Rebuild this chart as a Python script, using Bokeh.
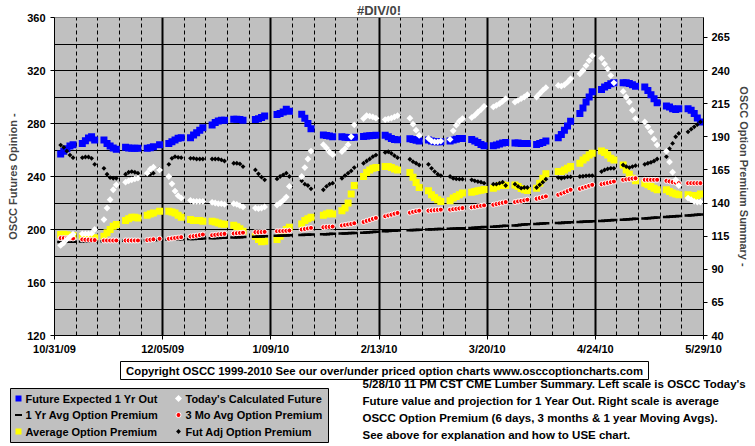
import math
import numpy as np
import pandas as pd
from bokeh.plotting import figure
from bokeh.models import Range1d, LinearAxis, FixedTicker, Grid
from bokeh.layouts import column
from bokeh.embed import file_html
from bokeh.resources import INLINE
from bokeh.core.properties import value

FONT = "Liberation Sans"

# ---------------- data ----------------
chart_start = "2009-10-31"
trade_dates = pd.bdate_range("2009-11-02", "2010-05-28")   # 30 weeks x 5 weekdays

x_tick_days = [0, 35, 70, 105, 140, 175, 210]
x_tick_labels = ["10/31/09", "12/05/09", "1/09/10", "2/13/10", "3/20/10", "4/24/10", "5/29/10"]
left_ticks = [120, 160, 200, 240, 280, 320, 360]
right_ticks = [40, 65, 90, 115, 140, 165, 190, 215, 240, 265]

N = None
# Left scale (OSCC Futures Opinion)
future_expected_1yr = [
    257, 259, 261, 263, 264,
    265, 267, 269, 270, 267.5,
    267.5, 265, 263, 261.5, 260.5,
    262, 261.5, 261.3, 261.3, 261.3,
    261.3, 261.7, 262.5, N, 264,
    265, 266.3, 267.5, 268.8, 269.3,
    269.3, 271.3, 273, 275, 276.8,
    278.8, 280.8, 281.8, 282.5, 282.5,
    283.3, 283.3, 283, 282.5, N,
    283, 283.5, 284.5, 285.7, N,
    286.7, 287.5, 288.7, 290.7, 289.2,
    N, 287, 284, 280, 276,
    N, 271.3, 271, 270.5, 270,
    270, 269.7, 269.5, 269.5, 269.7,
    270.2, 270.5, 270.7, 271, 271.2,
    271.2, 270, 268.7, 268, 267.8,
    N, 268.5, 268, 267.3, 266.8,
    267.5, 266.8, 266.2, 266.2, 266.2,
    266.8, 267.5, 268.2, 268.7, 268.7,
    268, 266.8, 265.7, 264.2, 263.3,
    263.3, 263.8, 264.5, 265.3, 265.7,
    265.3, 265.2, 265, 265, 265,
    264.2, 265, 265.7, 266.8, N,
    269.2, 271.7, 275, 278.2, 281.7,
    287.5, 291.7, 296.2, 300, 304,
    305.7, 307.5, 308.7, 310, 310.7,
    310.7, 310.7, 310.2, 309.2, 308.2,
    307.5, 305, 301.7, 298.7, 295.7,
    293.2, 292.5, 291.2, 290.5, 291.2,
    291.2, 290, 287.5, 284.2, 281.2,
]
todays_calculated = [
    188, 190, 192.5, 194.5, 196.5,
    196.7, 196.7, 196.7, 197, 200,
    207.5, 216.2, 222.5, 230, 233.7,
    235.7, 236.7, 237.5, 238.2, 238.7,
    242.5, 245.5, 247, N, 245,
    240, 234.5, 229, 225.5, 223.7,
    222, 221.2, 221.2, 221.2, 221.2,
    220.5, 220, 219.5, 219.5, 219,
    219.5, 219, 218, 217, N,
    216.2, 215.7, 216.2, 217, N,
    218.5, 220, 222, 224.5, 232.5,
    N, 240, 246.7, 253.2, 259.2,
    N, 264, 261.5, 258.5, 256.5,
    258.8, 261, 264, 270, 279,
    283.7, 286, 285.5, 285, 284,
    283, 283.5, 284, 285, 286,
    N, 284, 279.5, 275, 271,
    268.7, 266.8, 266.2, 266.2, 266.7,
    268, 274.5, 278.7, 281.7, 283.7,
    284.5, 286.2, 288.5, 290.5, 293,
    292.5, 293.7, 295, 296.7, 298.7,
    296.2, 297.5, 298.7, 300, 301.7,
    300, 302.5, 305, 307, N,
    308.7, 308.2, 309.2, 311.2, 313.7,
    317.5, 320, 323.7, 327.5, 331.2,
    329.2, 325, 321.2, 316.2, 310.7,
    304.2, 300, 296.2, 290, 283.7,
    281.2, 277.5, 273.7, 268.2, 263.8,
    259, 251, 243.2, 237.5, 233.2,
    223.7, 222.5, 221.2, 220.7, 220.7,
]
# Right scale (OSCC Option Premium Summary)
one_yr_avg_premium = [
    110.6, 110.6, 110.7, 110.7, 110.8,
    110.9, 110.9, 111, 111, 111.1,
    111.2, 111.2, 111.3, 111.3, 111.4,
    111.5, 111.6, 111.6, 111.7, 111.7,
    111.8, 111.9, 112, N, 112.1,
    112.3, 112.4, 112.5, 112.6, 112.7,
    112.8, 112.9, 113, 113.1, 113.2,
    113.4, 113.5, 113.6, 113.7, 113.8,
    114, 114.1, 114.2, 114.3, N,
    114.6, 114.7, 114.8, 114.9, N,
    115.2, 115.3, 115.4, 115.5, 115.6,
    N, 115.9, 116, 116.1, 116.2,
    N, 116.4, 116.5, 116.6, 116.7,
    116.9, 117, 117.2, 117.3, 117.4,
    117.6, 117.8, 118, 118.1, 118.3,
    118.6, 118.8, 119, 119.1, 119.3,
    N, 119.5, 119.6, 119.7, 119.8,
    120, 120.1, 120.2, 120.3, 120.4,
    120.5, 120.6, 120.8, 120.9, 121,
    121.2, 121.4, 121.5, 121.7, 121.8,
    122.1, 122.3, 122.5, 122.7, 122.9,
    123.1, 123.3, 123.5, 123.7, 123.9,
    124.1, 124.3, 124.5, 124.7, N,
    124.9, 125, 125.2, 125.3, 125.5,
    125.7, 125.8, 126, 126.1, 126.3,
    126.5, 126.6, 126.8, 127, 127.1,
    127.3, 127.5, 127.7, 127.9, 128.1,
    128.3, 128.5, 128.7, 128.9, 129.1,
    129.4, 129.6, 129.8, 130, 130.2,
    130.5, 130.7, 130.9, 131.1, 131.3,
]
three_mo_avg_premium = [
    113.5, 113.5, 113.5, 113.3, 113.2,
    112.5, 112.3, 112.2, 112, 112,
    111.7, 111.7, 111.7, 111.7, 111.7,
    111.7, 111.7, 111.7, 111.7, 111.7,
    112, 112.3, 112.6, N, 113,
    113, 113.3, 113.6, 113.9, 114.2,
    114.7, 115, 115.3, 115.8, 116.2,
    115.7, 116, 116.3, 116.5, 116.7,
    117, 117.2, 117.4, 117.6, N,
    118, 118, 118.1, 118.2, N,
    118.7, 118.8, 118.9, 119, 119.2,
    N, 120, 120.4, 120.8, 121.2,
    N, 121.7, 121.9, 122, 122.2,
    123, 123.4, 123.8, 124.2, 124.7,
    125.7, 126.5, 127.2, 128, 128.7,
    130, 130.6, 131.2, 131.9, 132.5,
    N, 132.7, 133.3, 133.8, 134.2,
    134.2, 134.4, 134.6, 134.8, 135,
    135, 135.3, 135.6, 135.9, 136.2,
    136.7, 137.1, 137.5, 137.9, 138.2,
    138.7, 139.2, 139.7, 140.2, 140.7,
    140.7, 141.2, 141.6, 142, 142.5,
    143.2, 143.8, 144.4, 145, N,
    146.2, 147.1, 148, 149, 150,
    150.7, 151.5, 152.2, 153, 153.7,
    154.2, 154.7, 155.2, 155.7, 156.2,
    157.5, 157.8, 158.1, 158.4, 158.7,
    157.5, 157.5, 157.5, 157.5, 157.5,
    156.7, 156.3, 155.8, 155.4, 155,
    155, 155, 155, 155, 155,
]
average_premium = [
    116.2, 116.5, 116, 115.5, 115.5,
    115, 114.5, 114.2, 113.7, 113.7,
    115, 117.5, 120, 122.5, 123.7,
    126.7, 128.2, 129.2, 129.2, 128.7,
    130.7, 131.7, 132.5, N, 133.7,
    133.7, 133.2, 132.5, 130.7, 129.2,
    127.5, 126.7, 126.7, 126.7, 126.2,
    126.2, 125.7, 125, 124.2, 124,
    123.2, 122, 120.5, 118.7, N,
    115, 112.5, 110.7, 111.2, N,
    112.5, 115, 117.5, 120, 121.7,
    N, 124.2, 126.7, 128.2, 129.2,
    N, 130.7, 131.7, 132.5, 131.7,
    134.2, 136.2, 140, 146.7, 153.2,
    160, 163, 165, 166.2, 166.7,
    167.5, 167.5, 166.7, 165.7, 165,
    N, 163, 159.5, 155.5, 151.7,
    149.2, 146.2, 144.2, 142.5, 141.2,
    141.7, 143.7, 145, 146.2, 147.5,
    148.2, 148.7, 149.2, 149.7, 150.2,
    151.2, 152.2, 153.2, 153.7, 153.2,
    153.5, 152.5, 151, 150, 149.5,
    151.2, 155, 158.7, 162, N,
    163.7, 163.7, 165, 166.2, 167.5,
    170, 172.5, 174.2, 176.2, 177.5,
    179.2, 178.2, 176.2, 173.7, 172.5,
    168.7, 165, 161.7, 158.7, 156.7,
    155, 153.7, 152.5, 151.2, 150,
    150, 148.7, 147.5, 146.7, 146.2,
    146.2, 145.7, 145, 145.7, 146.7,
]
fut_adj_premium = [
    183.7, 182, 179.2, 176.2, 174.2,
    174.2, 174.7, 174.7, 173.7, 169.2,
    166.2, 161.7, 159.2, 158.7, 158.7,
    161.7, 163.2, 163.7, 163.2, 162.5,
    161.2, 161.7, 162.5, N, 165.7,
    169.2, 173.7, 175, 174.5, 174.2,
    173.7, 173.7, 173.2, 173.2, 173.2,
    173.2, 173.2, 173.2, 172.5, 171.7,
    170, 170, 169.5, 167.5, N,
    165, 162, 159.5, 157.5, N,
    158.2, 160, 161.2, 162.5, 160,
    N, 156.7, 154.2, 153.2, 150.7,
    N, 150, 152.5, 154.2, 155,
    158.7, 160.7, 162.5, 164.2, 166.7,
    170, 171.7, 173.2, 175, 176.2,
    178.2, 178.7, 177.5, 175.7, 174.2,
    N, 173, 171.2, 170, 168.7,
    169.2, 166.2, 163.7, 161.7, 160.7,
    160, 158.7, 158.2, 158, 158,
    157.5, 156.7, 156.2, 155.7, 155,
    154.2, 154.2, 155, 155.7, 153.2,
    154.2, 152.5, 151.2, 151.7, 151.7,
    151.7, 153.7, 155.7, 158, N,
    159.2, 158.7, 159.2, 159.7, 159.7,
    160, 160.2, 160.5, 160.7, 160.7,
    163.7, 165, 165.7, 166.2, 166.2,
    168.7, 167.5, 166.7, 167.5, 168.2,
    169.2, 170, 170.7, 171.7, 173.2,
    175, 181, 185, 190, 192.5,
    193.7, 195.7, 197.5, 199.2, 201.2,
]

legend_labels = ["Future Expected 1 Yr Out", "Today's Calculated Future",
                 "1 Yr Avg Option Premium", "3 Mo Avg Option Premium",
                 "Average Option Premium", "Fut Adj Option Premium"]
copyright_text = "Copyright OSCC 1999-2010 See our over/under priced option charts www.osccoptioncharts.com"
note_lines = [
    "5/28/10 11 PM CST CME Lumber Summary. Left scale is OSCC Today's",
    "Future value and projection for 1 Year Out. Right scale is average",
    "OSCC Option Premium (6  days, 3 months & 1 year Moving  Avgs).",
    "See above for explanation and how to USE chart.",
]

def arr(v):
    return np.array([np.nan if a is None else a for a in v], dtype=float)

x_days = (trade_dates - pd.Timestamp(chart_start)).days.values.astype(float)

# ---------------- main chart ----------------
FL, FR = 54, 703
W = 755
p = figure(width=W, height=360, x_range=Range1d(0, 210), y_range=Range1d(120, 360),
           output_backend="svg", toolbar_location=None,
           min_border_left=FL, min_border_right=W - FR, min_border_top=15, min_border_bottom=25,
           background_fill_color="#C0C0C0", border_fill_color="white",
           title="#DIV/0!")
p.title.align = "center"
p.title.text_font = FONT
p.title.text_font_size = "13px"
p.title.text_font_style = "bold"
p.title.standoff = 0
p.outline_line_color = "#808080"
p.extra_y_ranges = {"right": Range1d(40, 280)}

def style_axis(ax):
    ax.major_label_text_font = FONT
    ax.major_label_text_font_size = "11px"
    ax.major_label_text_font_style = "bold"
    ax.major_label_text_color = "black"
    ax.axis_label_text_font = FONT
    ax.axis_label_text_font_size = "11px"
    ax.axis_label_text_font_style = "bold"
    ax.axis_line_color = "black"
    ax.axis_line_width = 1
    ax.major_tick_line_color = "black"
    ax.major_tick_out = 4
    ax.major_tick_in = 0
    ax.minor_tick_line_color = None

xa = p.xaxis[0]
xa.ticker = FixedTicker(ticks=x_tick_days)
xa.major_label_overrides = {d: lab for d, lab in zip(x_tick_days, x_tick_labels)}
style_axis(xa)
xa.major_label_standoff = 3

ya = p.yaxis[0]
ya.ticker = FixedTicker(ticks=left_ticks)
ya.axis_label = "OSCC Futures Opinion -"
style_axis(ya)
ya.major_label_standoff = 5
ya.axis_label_standoff = 5

ra = LinearAxis(y_range_name="right", ticker=FixedTicker(ticks=right_ticks),
                axis_label="OSCC Option Premium Summary -")
style_axis(ra)
ra.major_label_standoff = 4
ra.axis_label_standoff = 5
p.add_layout(ra, "right")

# grids
p.xgrid.ticker = FixedTicker(ticks=[35, 70, 105, 140, 175])
p.xgrid.grid_line_color = "black"
p.xgrid.grid_line_width = 2
p.ygrid.ticker = FixedTicker(ticks=list(range(120, 361, 20)))
p.ygrid.grid_line_color = "black"
p.ygrid.grid_line_width = 1
weekly = [d for d in range(7, 210, 7) if d % 35 != 0]
p.add_layout(Grid(dimension=0, ticker=FixedTicker(ticks=weekly), grid_line_color="black",
                  grid_line_width=1, grid_line_dash="4 3"))

# series
p.scatter(x_days, arr(future_expected_1yr), marker="square", size=7,
          fill_color="#0000FF", line_color=None)
p.scatter(x_days, arr(average_premium), marker="square", size=7,
          fill_color="#FFFF00", line_color=None, y_range_name="right")
p.scatter(x_days, arr(one_yr_avg_premium), marker="dash", size=7, line_width=2.5,
          line_color="black", y_range_name="right")
p.scatter(x_days, arr(three_mo_avg_premium), marker="circle", size=5,
          fill_color="#FF0000", line_color="white", line_width=1, y_range_name="right")
p.scatter(x_days, arr(fut_adj_premium), marker="square", angle=math.pi / 4, size=3.4,
          fill_color="black", line_color=None, y_range_name="right")
p.scatter(x_days, arr(todays_calculated), marker="square", angle=math.pi / 4, size=4.8,
          fill_color="white", line_color=None)

# ---------------- bottom panel (legend + notes), page-pixel coordinates ----------------
p2 = figure(width=W, height=86, x_range=Range1d(0, W), y_range=Range1d(446, 360),
            output_backend="svg", toolbar_location=None,
            min_border_left=0, min_border_right=0, min_border_top=0, min_border_bottom=0,
            x_axis_location=None, y_axis_location=None)
# keep this panel's frame full-width (do not align it with the chart frame above)
if "frame_align" in p2.properties():
    p2.frame_align = False
    p.frame_align = False
p2.grid.visible = False
p2.outline_line_color = None
p2.background_fill_color = "white"
p2.border_fill_color = "white"

def txt(size):
    return dict(text_font=value(FONT), text_font_size=size, text_font_style="bold",
                text_color="black", text_baseline="middle")

p2.quad(left=[120], right=[648], top=[361], bottom=[379], fill_color="white",
        line_color="black", line_width=1)
p2.text(x=[384], y=[370], text=[copyright_text], text_align="center", **txt("11.3px"))

p2.quad(left=[10], right=[328], top=[388], bottom=[442], fill_color="#C0C0C0",
        line_color="black", line_width=1)
rows = [398, 414.5, 431]
cols_m = [18, 178]
cols_t = [25, 185]
p2.scatter([cols_m[0]], [rows[0]], marker="square", size=6, fill_color="#0000FF", line_color=None)
p2.scatter([cols_m[1]], [rows[0]], marker="square", angle=math.pi / 4, size=5,
           fill_color="white", line_color=None)
p2.scatter([cols_m[0]], [rows[1]], marker="dash", size=7, line_width=2, line_color="black")
p2.scatter([cols_m[1]], [rows[1]], marker="circle", size=5, fill_color="#FF0000",
           line_color="white", line_width=1)
p2.scatter([cols_m[0]], [rows[2]], marker="square", size=6, fill_color="#FFFF00", line_color=None)
p2.scatter([cols_m[1]], [rows[2]], marker="square", angle=math.pi / 4, size=3.4,
           fill_color="black", line_color=None)
lx = [cols_t[i % 2] for i in range(6)]
ly = [rows[i // 2] for i in range(6)]
p2.text(x=lx, y=ly, text=legend_labels, text_align="left", **txt("11px"))

p2.text(x=[362] * 4, y=[383, 400, 417, 434], text=note_lines, text_align="left", **txt("11.5px"))

layout = column(p, p2, spacing=0)
open("out.html", "w").write(file_html(layout, INLINE))
